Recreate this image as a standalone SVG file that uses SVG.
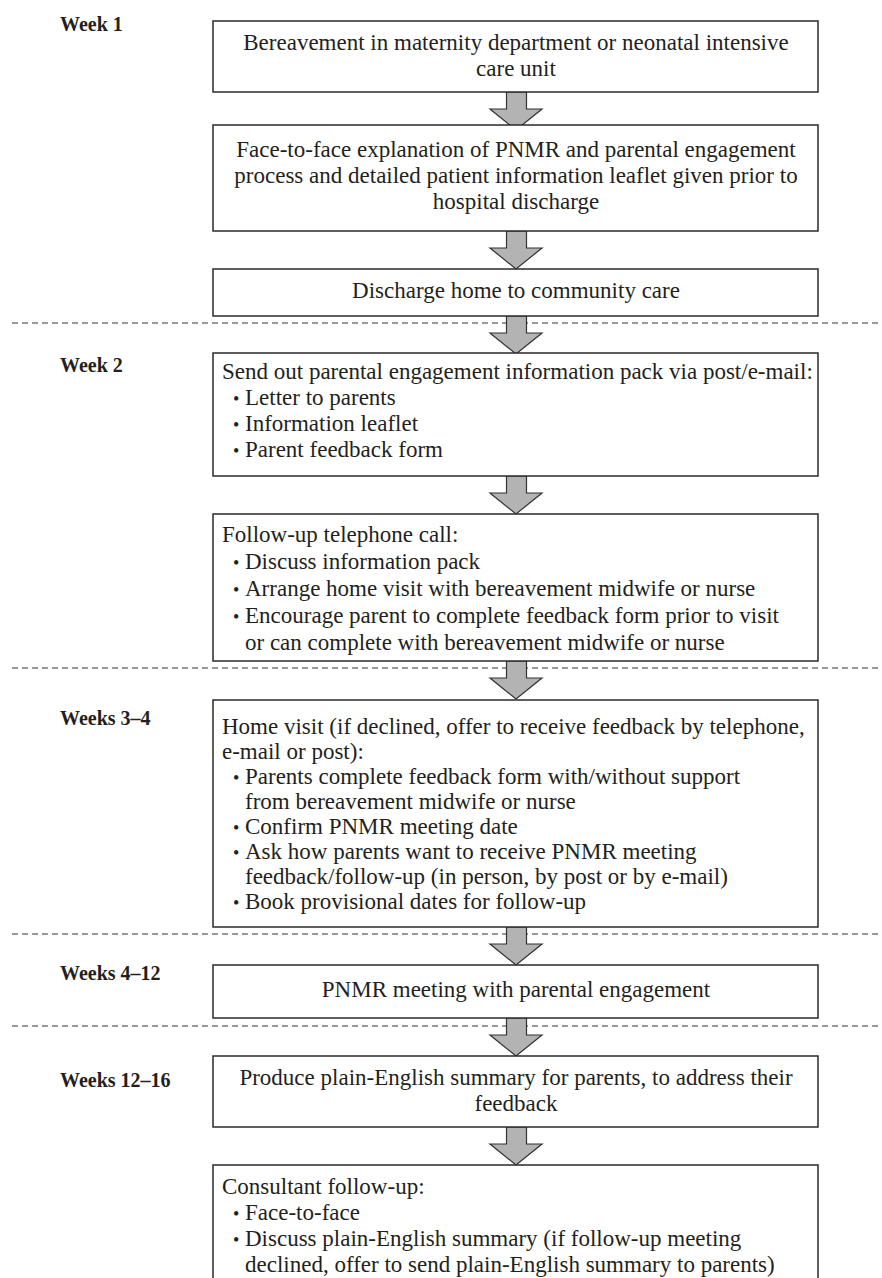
<svg xmlns="http://www.w3.org/2000/svg" width="882" height="1278" viewBox="0 0 882 1278">
<defs>
<style>
.bg{fill:#ffffff}
.box{fill:#ffffff;stroke:#2a2a2a;stroke-width:1.5}
.t{font-family:"Liberation Serif","Times New Roman",serif;font-size:23px;fill:#231f20}
.c{text-anchor:middle}
.wk{font-family:"Liberation Serif","Times New Roman",serif;font-size:20px;font-weight:bold;fill:#231f20}
.b{font-size:18px}
.dash{stroke:#333333;stroke-width:1.2;stroke-dasharray:6 4;fill:none}
.arr{fill:#b3b3b3;stroke:#333333;stroke-width:1.2;stroke-linejoin:miter}
</style>
<path id="arrow" d="M-9.5,0 L10.5,0 L10.5,17 L26,17 L0,38 L-26,17 L-9.5,17 Z"/>
</defs>
<rect class="bg" x="0" y="0" width="882" height="1278"/>

<g id="week-labels">
<text class="wk" x="60" y="31">Week 1</text>
<text class="wk" x="60" y="372">Week 2</text>
<text class="wk" x="60" y="725">Weeks 3–4</text>
<text class="wk" x="60" y="980">Weeks 4–12</text>
<text class="wk" x="60" y="1087">Weeks 12–16</text>
</g>

<g id="dividers">
<line class="dash" x1="12" y1="323" x2="882" y2="323"/>
<line class="dash" x1="12" y1="668" x2="882" y2="668"/>
<line class="dash" x1="12" y1="934" x2="882" y2="934"/>
<line class="dash" x1="12" y1="1026" x2="882" y2="1026"/>
</g>

<g id="connectors">
<use href="#arrow" class="arr" x="516" y="92"/>
<use href="#arrow" class="arr" x="516" y="231"/>
<use href="#arrow" class="arr" x="516" y="316"/>
<use href="#arrow" class="arr" x="516" y="476"/>
<use href="#arrow" class="arr" x="516" y="661"/>
<use href="#arrow" class="arr" x="516" y="927"/>
<use href="#arrow" class="arr" x="516" y="1018"/>
<use href="#arrow" class="arr" x="516" y="1127"/>
</g>

<g id="n1">
<rect class="box" x="213" y="21" width="605" height="71"/>
<text class="t c" x="516" y="50">Bereavement in maternity department or neonatal intensive</text>
<text class="t c" x="516" y="76">care unit</text>
</g>

<g id="n2">
<rect class="box" x="213" y="125" width="605" height="106"/>
<text class="t c" x="516" y="157">Face-to-face explanation of PNMR and parental engagement</text>
<text class="t c" x="516" y="183">process and detailed patient information leaflet given prior to</text>
<text class="t c" x="516" y="209">hospital discharge</text>
</g>

<g id="n3">
<rect class="box" x="213" y="269" width="605" height="47"/>
<text class="t c" x="516" y="298">Discharge home to community care</text>
</g>

<g id="n4">
<rect class="box" x="213" y="353" width="605" height="123"/>
<text class="t" x="222" y="379">Send out parental engagement information pack via post/e-mail:</text>
<text class="t" y="405"><tspan class="b" x="233">•</tspan><tspan x="245">Letter to parents</tspan></text>
<text class="t" y="431"><tspan class="b" x="233">•</tspan><tspan x="245">Information leaflet</tspan></text>
<text class="t" y="457"><tspan class="b" x="233">•</tspan><tspan x="245">Parent feedback form</tspan></text>
</g>

<g id="n5">
<rect class="box" x="213" y="514" width="605" height="147"/>
<text class="t" x="222" y="542">Follow-up telephone call:</text>
<text class="t" y="569"><tspan class="b" x="233">•</tspan><tspan x="245">Discuss information pack</tspan></text>
<text class="t" y="596"><tspan class="b" x="233">•</tspan><tspan x="245">Arrange home visit with bereavement midwife or nurse</tspan></text>
<text class="t" y="623"><tspan class="b" x="233">•</tspan><tspan x="245">Encourage parent to complete feedback form prior to visit</tspan></text>
<text class="t" x="245" y="650">or can complete with bereavement midwife or nurse</text>
</g>

<g id="n6">
<rect class="box" x="213" y="700" width="605" height="227"/>
<text class="t" x="222" y="734">Home visit (if declined, offer to receive feedback by telephone,</text>
<text class="t" x="222" y="759">e-mail or post):</text>
<text class="t" y="784"><tspan class="b" x="233">•</tspan><tspan x="245">Parents complete feedback form with/without support</tspan></text>
<text class="t" x="245" y="809">from bereavement midwife or nurse</text>
<text class="t" y="834"><tspan class="b" x="233">•</tspan><tspan x="245">Confirm PNMR meeting date</tspan></text>
<text class="t" y="859"><tspan class="b" x="233">•</tspan><tspan x="245">Ask how parents want to receive PNMR meeting</tspan></text>
<text class="t" x="245" y="884">feedback/follow-up (in person, by post or by e-mail)</text>
<text class="t" y="909"><tspan class="b" x="233">•</tspan><tspan x="245">Book provisional dates for follow-up</tspan></text>
</g>

<g id="n7">
<rect class="box" x="213" y="965" width="605" height="53"/>
<text class="t c" x="516" y="997">PNMR meeting with parental engagement</text>
</g>

<g id="n8">
<rect class="box" x="213" y="1056" width="605" height="71"/>
<text class="t c" x="516" y="1085">Produce plain-English summary for parents, to address their</text>
<text class="t c" x="516" y="1111">feedback</text>
</g>

<g id="n9">
<rect class="box" x="213" y="1165" width="605" height="130"/>
<text class="t" x="222" y="1194">Consultant follow-up:</text>
<text class="t" y="1220"><tspan class="b" x="233">•</tspan><tspan x="245">Face-to-face</tspan></text>
<text class="t" y="1246"><tspan class="b" x="233">•</tspan><tspan x="245">Discuss plain-English summary (if follow-up meeting</tspan></text>
<text class="t" x="245" y="1272">declined, offer to send plain-English summary to parents)</text>
</g>
</svg>
